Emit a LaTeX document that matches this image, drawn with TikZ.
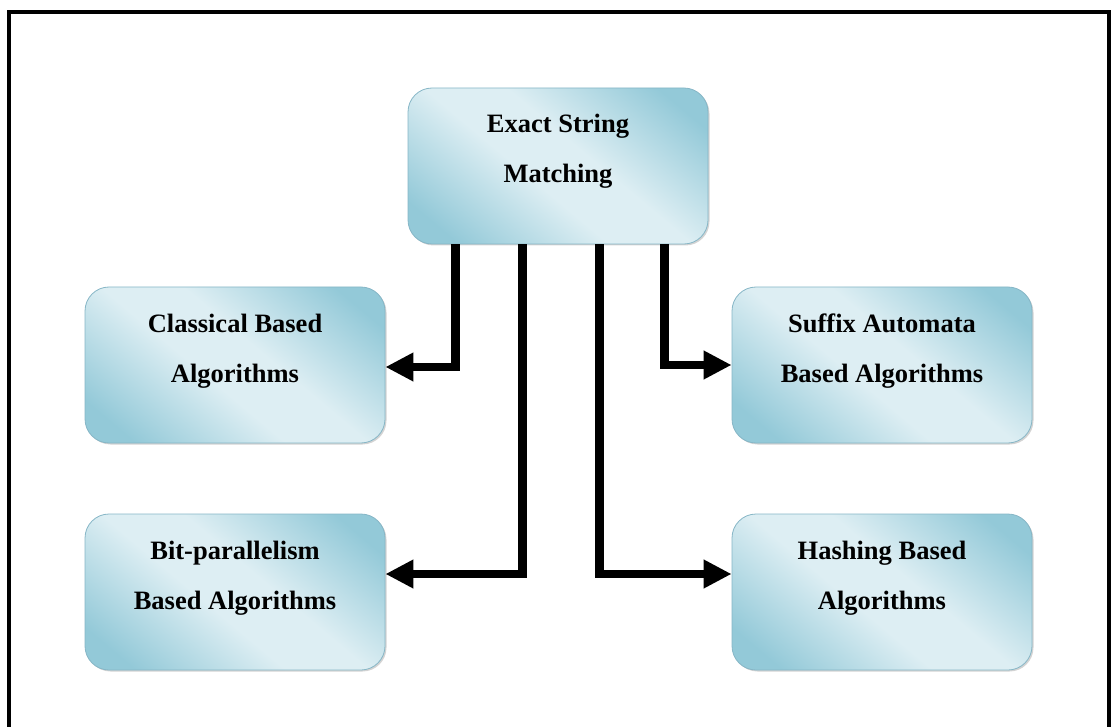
\documentclass[tikz,border=0pt]{standalone}
\usepackage{fontspec}
\setmainfont{Liberation Serif}
\usetikzlibrary{arrows.meta,shadows}
\definecolor{boxdark}{HTML}{93C9D8}
\definecolor{boxlight}{HTML}{DDEEF3}
\definecolor{boxedge}{HTML}{86B6C6}
\pgfdeclareverticalshading{boxshade}{100bp}{color(0bp)=(boxdark); color(22bp)=(boxdark); color(44bp)=(boxlight); color(56bp)=(boxlight); color(78bp)=(boxdark); color(100bp)=(boxdark)}
\tikzset{
  algbox/.style={draw=boxedge, line width=0.8pt, rounded corners=24pt,
    minimum width=300pt, minimum height=156pt, inner sep=0pt,
    shading=boxshade, shading angle=-40,
    drop shadow={shadow xshift=1.5pt, shadow yshift=-1.5pt, opacity=0.35, fill=gray}},
  algtext/.style={align=center, inner sep=0pt, font=\fontsize{26.5}{50}\selectfont\bfseries},
  conn/.style={line width=8.5pt, line join=miter, -{Triangle[length=28pt,width=27pt]}}
}
\begin{document}
\begin{tikzpicture}[x=1pt,y=-1pt]
\useasboundingbox (0,0) rectangle (1111,727);
\draw[line width=4pt] (9,727) -- (9,12) -- (1108.5,12) -- (1108.5,727);
\node[algbox] (top) at (558,166) {};
\node[algbox] (cls) at (235,365) {};
\node[algbox] (suf) at (882,365) {};
\node[algbox] (bit) at (235,592) {};
\node[algbox] (hsh) at (882,592) {};
\node[algtext] (topt) at ([yshift=15pt]top.center) {Exact String\\Matching};
\node[algtext] (clst) at ([yshift=14pt]cls.center) {Classical Based\\Algorithms};
\node[algtext] (suft) at ([yshift=14pt]suf.center) {Suffix Automata\\Based Algorithms};
\node[algtext] (bitt) at ([yshift=14pt]bit.center) {Bit-parallelism\\Based Algorithms};
\node[algtext] (hsht) at ([yshift=14pt]hsh.center) {Hashing Based\\Algorithms};
\draw[conn] ([xshift=48pt]top.south west) |- ([yshift=-2pt]cls.east);
\draw[conn] ([xshift=115pt]top.south west) |- ([yshift=18pt]bit.east);
\draw[conn] ([xshift=192pt]top.south west) |- ([yshift=18pt]hsh.west);
\draw[conn] ([xshift=257pt]top.south west) |- ([yshift=0pt]suf.west);
\end{tikzpicture}
\end{document}
